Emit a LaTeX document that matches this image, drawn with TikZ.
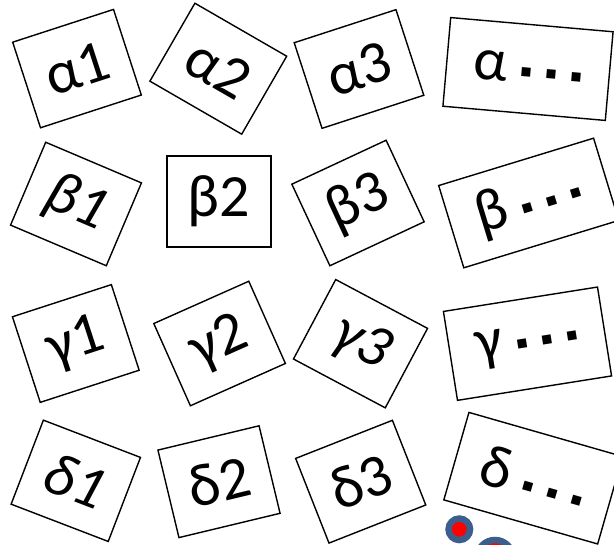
\documentclass[tikz,border=0pt]{standalone}
\usepackage{fontspec}
\setmainfont{Carlito}
\newfontfamily\symfont{DejaVu Sans}
\definecolor{ringblue}{HTML}{3B5E8C}
\begin{document}
\begin{tikzpicture}[x=1pt,y=-1pt,
  card/.style={draw=black, line width=1.4pt, inner sep=0pt, font=\fontsize{60}{60}\selectfont},
  sq/.style={card, minimum width=104pt, minimum height=90pt},
  wide/.style={card, minimum width=160pt, minimum height=89pt},
  dot/.style={circle, fill=red, draw=ringblue, line width=6.5pt, inner sep=0pt}]
\useasboundingbox (0,0) rectangle (614,545);
\clip (0,0) rectangle (614,545);
\newcommand{\dd}{\hspace{13pt}\raisebox{6pt}{\fontsize{18}{18}\symfont ▪}}
% row alpha
\node[sq, minimum width=106pt, rotate=18] (a1) at (77,68.6) {α1};
\node[sq, minimum width=106pt, rotate=-30] (a2) at (218.3,68.7) {α2};
\node[sq, minimum width=107pt, rotate=18] (a3) at (359,69) {α3};
\node[wide, minimum width=163pt, rotate=-5] (a4) at (528,69) {α\dd\dd\dd};
% row beta
\node[sq, rotate=-23, font=\fontsize{60}{60}\selectfont\itshape] (b1) at (76,204) {β1};
\node[sq, minimum height=91pt] (b2) at (218.8,201.7) {β2};
\node[sq, rotate=25] (b3) at (358,203) {β3};
\node[wide, minimum width=162pt, minimum height=86pt, rotate=17] (b4) at (528.7,203) {β\dd\dd\dd};
% row gamma
\node[sq, rotate=18] (c1) at (75.8,343.5) {γ1};
\node[sq, rotate=24] (c2) at (219.6,343.5) {γ2};
\node[sq, rotate=-28, font=\fontsize{60}{60}\selectfont\itshape] (c3) at (360.5,343.7) {γ3};
\node[wide, minimum width=156pt, minimum height=90pt, rotate=9] (c4) at (527.5,343.7) {γ\dd\dd\dd};
% row delta
\node[sq, rotate=-21, font=\fontsize{60}{60}\selectfont\itshape] (d1) at (75.8,480.8) {δ1};
\node[sq, rotate=13.5] (d2) at (219,481.7) {δ2};
\node[sq, minimum height=91pt, rotate=21.5] (d3) at (360.7,481.7) {δ3};
\node[wide, minimum height=91pt, rotate=-16] (d4) at (533.3,478.2) {δ\dd\dd\dd};
% markers
\node[dot, minimum size=21.5pt] (m1) at (459.3,529.3) {};
\node[dot, minimum size=36pt] (m2) at (495,558) {};
\end{tikzpicture}
\end{document}
